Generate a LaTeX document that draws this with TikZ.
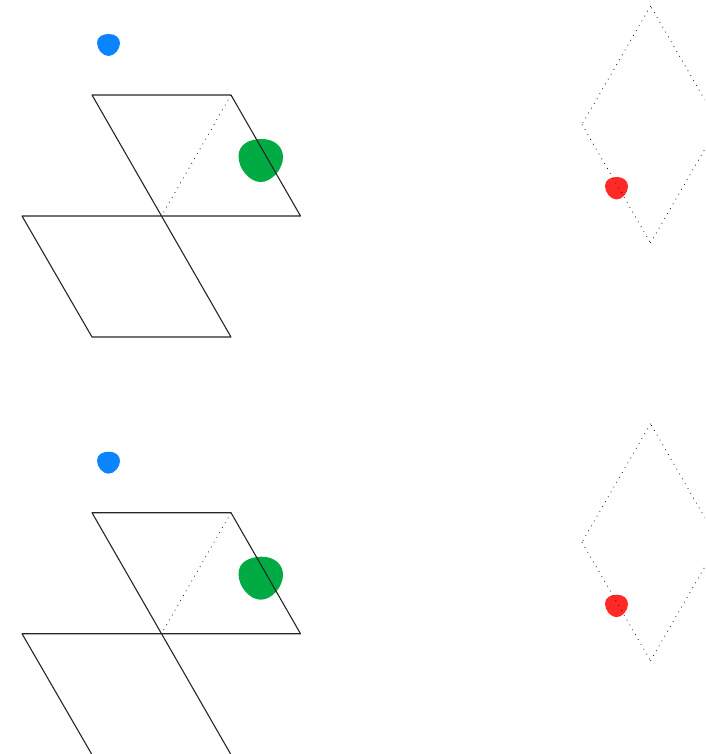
\documentclass[tikz,border=0pt]{standalone}
\definecolor{blobblue}{HTML}{0A84FF}
\definecolor{blobgreen}{HTML}{00AB44}
\definecolor{blobred}{HTML}{FF2A26}
\tikzset{
  solidedge/.style={draw=black!85,line width=1.1pt,line cap=round,line join=round},
  dotedge/.style={draw=black!90,line width=0.8pt,dash pattern=on 0.8pt off 4.8pt},
  blob/.pic={
    \fill[pic actions] (0,.4) .. controls (0,.12) and (.25,0) .. (.52,0)
      .. controls (.8,0) and (1,.17) .. (1,.42)
      .. controls (1,.7) and (.75,1) .. (.5,1)
      .. controls (.25,1) and (0,.7) .. (0,.4) -- cycle;
  },
  panel/.pic={
    \coordinate (a) at (92,95);
    \coordinate (b) at (231,95);
    \coordinate (c) at (300.5,216);
    \coordinate (d) at (161.5,216);
    \coordinate (e) at (22,216);
    \coordinate (f) at (92,337);
    \coordinate (g) at (231,337);
    \coordinate (p) at (650.5,6);
    \coordinate (q) at (582,124.5);
    \coordinate (r) at (650.5,243);
    \coordinate (s) at (719,124.5);
    \begin{scope}[shift={(97,34)},x=23pt,y=-22pt]
      \pic[fill=blobblue] {blob};
    \end{scope}
    \begin{scope}[shift={(238.5,139)},x=44.5pt,y=-43pt]
      \pic[fill=blobgreen] {blob};
    \end{scope}
    \begin{scope}[shift={(605,177)},x=23pt,y=-22.5pt]
      \pic[fill=blobred] {blob};
    \end{scope}
    \draw[solidedge] (a) -- (g) -- (f) -- (e) -- (c) -- (b) -- cycle;
    \draw[dotedge] (b) -- (d);
    \draw[dotedge] (p) -- (q);
    \draw[dotedge] (q) -- (r);
    \draw[dotedge] (r) -- (s);
    \draw[dotedge] (s) -- (p);
  }
}
\begin{document}
\begin{tikzpicture}[x=1pt,y=-1pt]
  \useasboundingbox (0,0) rectangle (705,754);
  \clip (0,0) rectangle (704.5,754);
  \pic at (0,0) {panel};
  \pic at (0,417.7) {panel};
\end{tikzpicture}
\end{document}
